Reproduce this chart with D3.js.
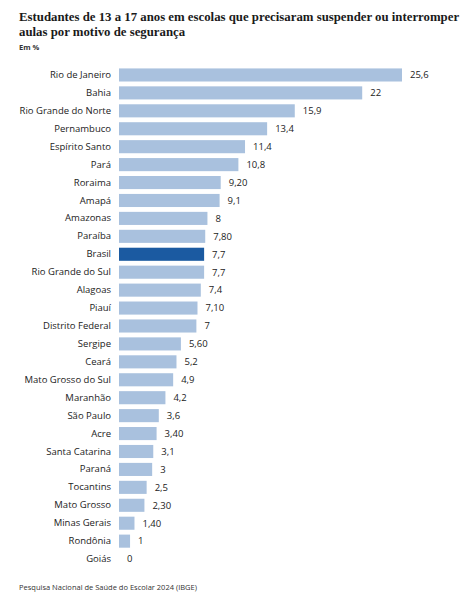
<!DOCTYPE html>
<html>
<head>
<meta charset="utf-8">
<script src="https://cdn.jsdelivr.net/npm/d3@7"></script>
<style>
  body { margin: 0; background: #fff; }
  svg { display: block; }
</style>
</head>
<body>
<div id="chart"></div>
<script>
// dados
const estados = [
  "Rio de Janeiro", "Bahia", "Rio Grande do Norte", "Pernambuco", "Espírito Santo",
  "Pará", "Roraima", "Amapá", "Amazonas", "Paraíba", "Brasil", "Rio Grande do Sul",
  "Alagoas", "Piauí", "Distrito Federal", "Sergipe", "Ceará", "Mato Grosso do Sul",
  "Maranhão", "São Paulo", "Acre", "Santa Catarina", "Paraná", "Tocantins",
  "Mato Grosso", "Minas Gerais", "Rondônia", "Goiás"
];
const valores = [
  25.6, 22, 15.9, 13.4, 11.4, 10.8, 9.2, 9.1, 8, 7.8, 7.7, 7.7,
  7.4, 7.1, 7, 5.6, 5.2, 4.9, 4.2, 3.6, 3.4, 3.1, 3, 2.5, 2.3, 1.4, 1, 0
];
// rótulos como aparecem no gráfico
const rotulos = [
  "25,6", "22", "15,9", "13,4", "11,4", "10,8", "9,20", "9,1", "8", "7,80", "7,7", "7,7",
  "7,4", "7,10", "7", "5,60", "5,2", "4,9", "4,2", "3,6", "3,40", "3,1", "3", "2,5", "2,30", "1,40", "1", "0"
];
const destaque = "Brasil";

const width = 464, height = 600;
const margin = { top: 66, left: 119, right: 62 };
const rowStep = 17.93;

const svg = d3.select("#chart").append("svg")
  .attr("width", width)
  .attr("height", height);

// título
const titulo = svg.append("text")
  .attr("x", 19)
  .attr("y", 21)
  .style("font-family", "'Liberation Serif', serif")
  .style("font-weight", "bold")
  .style("font-size", "12.8px")
  .style("fill", "#1a1a1a");
titulo.append("tspan").attr("x", 19).attr("dy", 0)
  .text("Estudantes de 13 a 17 anos em escolas que precisaram suspender ou interromper");
titulo.append("tspan").attr("x", 19).attr("dy", 15)
  .text("aulas por motivo de segurança");

svg.append("text")
  .attr("x", 19).attr("y", 50)
  .style("font-family", "'Open Sans', sans-serif")
  .style("font-weight", "bold")
  .style("font-size", "7.5px")
  .style("fill", "#333")
  .text("Em %");

// escalas
const x = d3.scaleLinear()
  .domain([0, 25.6])
  .range([margin.left, 402]);

const y = d3.scaleBand()
  .domain(estados)
  .range([margin.top, margin.top + rowStep * estados.length])
  .paddingInner(0.27)
  .paddingOuter(0.135);

const dados = estados.map((e, i) => ({ estado: e, valor: valores[i], rotulo: rotulos[i] }));

// barras
svg.selectAll(".bar")
  .data(dados)
  .enter()
  .append("rect")
  .attr("class", "bar")
  .attr("x", x(0))
  .attr("y", d => y(d.estado))
  .attr("width", d => x(d.valor) - x(0))
  .attr("height", y.bandwidth())
  .attr("fill", d => d.estado === destaque ? "#1b5aa1" : "#a9c1de");

// eixo das categorias
const eixo = svg.append("g")
  .attr("transform", `translate(${margin.left - 8}, 0)`)
  .call(d3.axisLeft(y).tickSize(0).tickPadding(0));
eixo.select(".domain").remove();
eixo.selectAll("text")
  .style("font-family", "'Open Sans', sans-serif")
  .style("font-size", "9.5px")
  .style("fill", "#222");

// valores
svg.selectAll(".label")
  .data(dados)
  .enter()
  .append("text")
  .attr("class", "label")
  .attr("x", d => x(d.valor) + 8)
  .attr("y", d => y(d.estado) + y.bandwidth() / 2)
  .attr("dy", "0.35em")
  .style("font-family", "'Open Sans', sans-serif")
  .style("font-size", "9.5px")
  .style("fill", "#222")
  .text(d => d.rotulo);

// fonte
svg.append("text")
  .attr("x", 19).attr("y", 590)
  .style("font-family", "'Open Sans', sans-serif")
  .style("font-size", "7.5px")
  .style("fill", "#333")
  .text("Pesquisa Nacional de Saúde do Escolar 2024 (IBGE)");
</script>
</body>
</html>
